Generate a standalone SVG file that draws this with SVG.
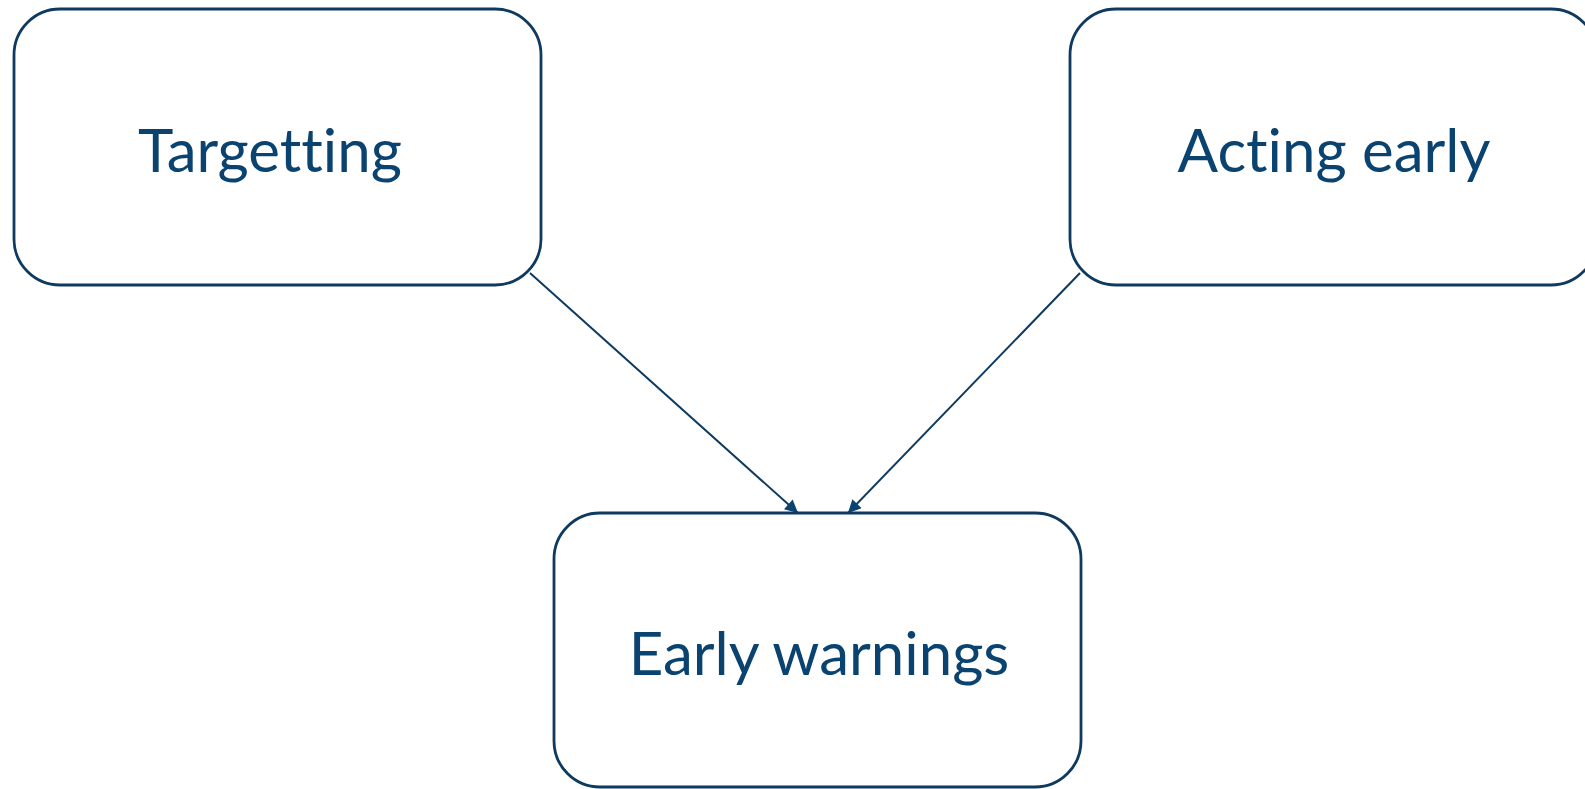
<svg xmlns="http://www.w3.org/2000/svg" width="1585" height="789" viewBox="0 0 1585 789">
  <style>
    .box { fill: #ffffff; stroke: #0e3a5f; stroke-width: 2.8; }
    .label { font-family: Lato, "Open Sans", "Liberation Sans", sans-serif; font-size: 60px; fill: #0b4370; text-anchor: middle; font-variant-ligatures: none; font-feature-settings: "liga" 0; }
    .edge { stroke: #0e3a5f; stroke-width: 2; fill: none; marker-end: url(#arrow); }
  </style>
  <defs>
    <marker id="arrow" viewBox="0 0 10 10" refX="10" refY="5" markerWidth="16" markerHeight="13" markerUnits="userSpaceOnUse" orient="auto">
      <path d="M0,0 L10,5 L0,10 z" fill="#0b4370"/>
    </marker>
  </defs>
  <rect width="1585" height="789" fill="#ffffff"/>

  <g id="connectors">
    <line class="edge" x1="530" y1="273" x2="798" y2="513"/>
    <line class="edge" x1="1080" y1="273" x2="848" y2="513"/>
  </g>

  <g id="node-targetting">
    <rect class="box" x="14" y="9" width="527" height="276" rx="46" ry="46"/>
    <text class="label" x="270" y="172">Targetting</text>
  </g>

  <g id="node-acting-early">
    <rect class="box" x="1070" y="9" width="527" height="276" rx="46" ry="46"/>
    <text class="label" x="1334" y="172">Acting early</text>
  </g>

  <g id="node-early-warnings">
    <rect class="box" x="554" y="513" width="527" height="274" rx="46" ry="46"/>
    <text class="label" x="819" y="675">Early warnings</text>
  </g>
</svg>
